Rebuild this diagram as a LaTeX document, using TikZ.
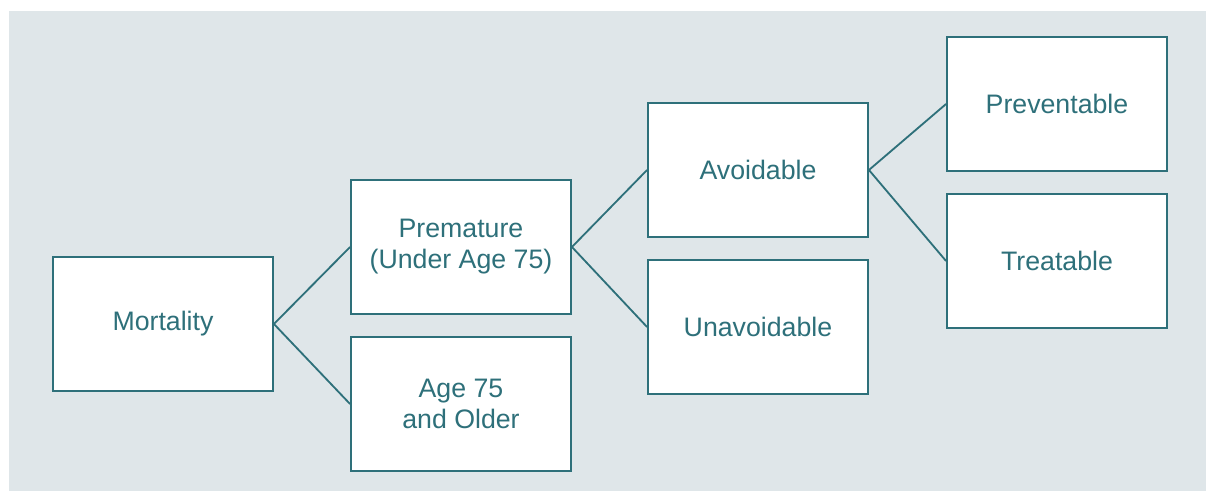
\documentclass[tikz,border=0pt]{standalone}
\usepackage{fontspec}
\setmainfont{Liberation Sans}
\usetikzlibrary{positioning}
\definecolor{teal}{RGB}{46,112,122}
\definecolor{backgray}{RGB}{223,230,233}
\tikzset{
  catbox/.style = {draw = teal, fill = white, line width = 1.3pt, text = teal,
    minimum width = 5.5cm, minimum height = 3.35cm, align = center,
    font = \fontsize{19}{22}\selectfont},
  branch/.style = {draw = teal, line width = 1.3pt}
}
\begin{document}
\begin{tikzpicture}[x = 0.025cm, y = -0.025cm]
                \useasboundingbox (0,0) rectangle (1206,491);
                \path[fill = backgray] (9,11) rectangle (1206,491);
                \node[catbox] (mort) at (163,324) {Mortality};
                \node[catbox] (prem) at (461,247) {Premature\\(Under Age 75)};
                \node[catbox] (old) at (461,404) {Age 75\\and Older};
                \node[catbox] (avoid) at (758,170) {Avoidable};
                \node[catbox] (unavoid) at (758,327) {Unavoidable};
                \node[catbox] (prev) at (1057,104) {Preventable};
                \node[catbox] (treat) at (1057,261) {Treatable};
                \path[branch] (mort.east) to (prem.west);
                \path[branch] (mort.east) to (old.west);
                \path[branch] (prem.east) to (avoid.west);
                \path[branch] (prem.east) to (unavoid.west);
                \path[branch] (avoid.east) to (prev.west);
                \path[branch] (avoid.east) to (treat.west);
            \end{tikzpicture}
\end{document}
